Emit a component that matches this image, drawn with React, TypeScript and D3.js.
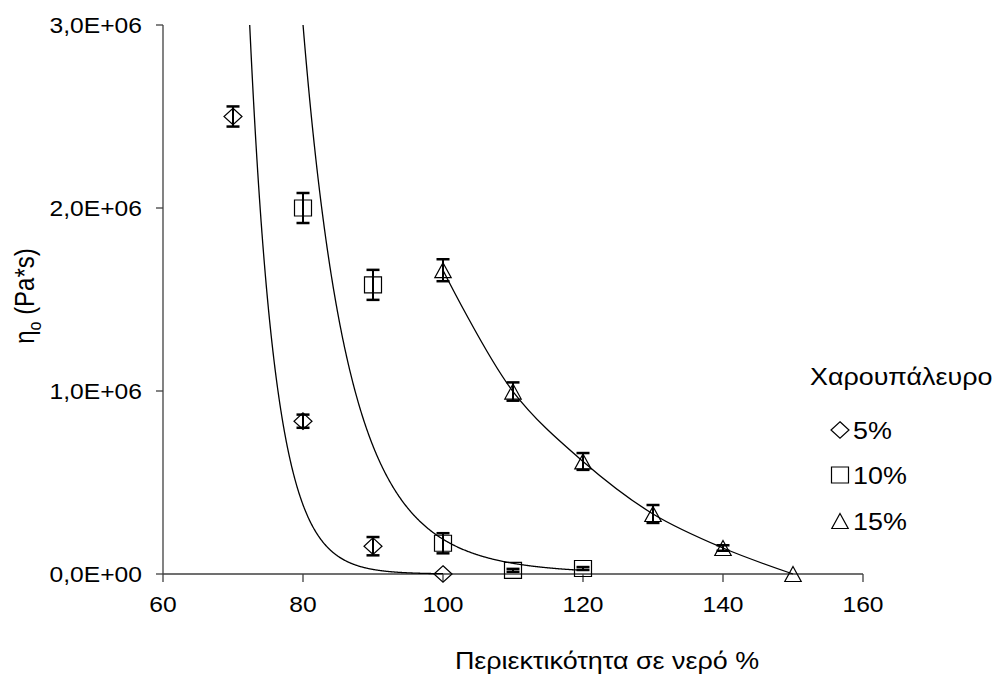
import React from "react";
import * as d3 from "d3";

// ---- data ----
const x5 = [70, 80, 90, 100];
const y5 = [2.5e6, 0.835e6, 0.152e6, 0];
const e5 = [0.055e6, 0.036e6, 0.05e6, 0];

const x10 = [80, 90, 100, 110, 120];
const y10 = [2.0e6, 1.58e6, 0.168e6, 0.02e6, 0.03e6];
const e10 = [0.082e6, 0.082e6, 0.055e6, 0.008e6, 0.008e6];

const x15 = [100, 110, 120, 130, 140, 150];
const y15 = [1.66e6, 0.997e6, 0.615e6, 0.328e6, 0.142e6, 0];
const e15 = [0.06e6, 0.05e6, 0.046e6, 0.049e6, 0.015e6, 0];

// trend lines
// 5%: exponential y = y0 * exp(-b (x - x0))
const trend5 = { y0: 0.552e6, x0: 78.61, b: 0.272, xmin: 70, xmax: 100 };
// 10%: power y = y0 * (x / x0)^(-n)
const trend10 = { y0: 0.19e6, x0: 100, n: 12.37, xmin: 80, xmax: 120 };

const xTicks = [60, 80, 100, 120, 140, 160];
const yTicks = [0, 1e6, 2e6, 3e6];
const yTickLabels = ["0,0E+00", "1,0E+06", "2,0E+06", "3,0E+06"];
const legendLabels = ["5%", "10%", "15%"];
const legendTitle = "Χαρουπάλευρο";
const xTitle = "Περιεκτικότητα σε νερό %";

const W = 992, H = 675;
const left = 163, right = 863, top = 25, bottom = 574;
const FONT = "'Liberation Sans', Arial, sans-serif";
const SX = 1.12; // horizontal stretch of the reference text

const xS = d3.scaleLinear().domain([60, 160]).range([left, right]);
const yS = d3.scaleLinear().domain([0, 3e6]).range([bottom, top]);

function markerPath(kind: string, cx: number, cy: number): string {
  if (kind === "diamond") {
    const rx = 9, ry = 8.3;
    return `M${cx},${cy - ry}L${cx + rx},${cy}L${cx},${cy + ry}L${cx - rx},${cy}Z`;
  }
  if (kind === "square") {
    const sx = 8.5, sy = 8;
    return `M${cx - sx},${cy - sy}H${cx + sx}V${cy + sy}H${cx - sx}Z`;
  }
  return `M${cx},${cy - 7.5}L${cx + 8.2},${cy + 7.5}L${cx - 8.2},${cy + 7.5}Z`;
}

function curvePath(fn: (x: number) => number, xmin: number, xmax: number) {
  const pts: [number, number][] = [];
  const n = 500;
  for (let i = 0; i <= n; i++) {
    const x = xmin + ((xmax - xmin) * i) / n;
    pts.push([x, Math.min(fn(x), 4e6)]);
  }
  return d3.line<[number, number]>().x((d) => xS(d[0])).y((d) => yS(d[1]))(pts) || "";
}

function ErrorBars({ xs, ys, es }: { xs: number[]; ys: number[]; es: number[] }) {
  return (
    <g stroke="#000" fill="none">
      {xs.map((x, i) => {
        if (!es[i]) return null;
        const cx = xS(x);
        const y1 = yS(ys[i] + es[i]);
        const y2 = yS(ys[i] - es[i]);
        return (
          <g key={i}>
            <line x1={cx} x2={cx} y1={y1} y2={y2} strokeWidth={2} />
            <line x1={cx - 6.5} x2={cx + 6.5} y1={y1} y2={y1} strokeWidth={2.5} />
            <line x1={cx - 6.5} x2={cx + 6.5} y1={y2} y2={y2} strokeWidth={2.5} />
          </g>
        );
      })}
    </g>
  );
}

function Markers({ xs, ys, kind }: { xs: number[]; ys: number[]; kind: string }) {
  return (
    <g stroke="#000" strokeWidth={1.2} fill="none">
      {xs.map((x, i) => (
        <path key={i} d={markerPath(kind, xS(x), yS(ys[i]))} />
      ))}
    </g>
  );
}

function T({ x, y, size, anchor, children }: { x: number; y: number; size: number; anchor?: string; children: React.ReactNode }) {
  return (
    <text transform={`translate(${x},${y}) scale(${SX},1)`} fontSize={size} textAnchor={anchor || "start"} fill="#000">
      {children}
    </text>
  );
}

export default function App() {
  const line15 =
    d3
      .line<number>()
      .x((_, i) => xS(x15[i]))
      .y((d) => yS(d))
      .curve(d3.curveCatmullRom.alpha(0.5))(y15) || "";

  const f5 = (x: number) => trend5.y0 * Math.exp(-trend5.b * (x - trend5.x0));
  const f10 = (x: number) => trend10.y0 * Math.pow(x / trend10.x0, -trend10.n);

  const legendKinds = ["diamond", "square", "triangle"];
  const legendY = [430, 475, 521];

  return (
    <svg width={W} height={H} style={{ position: "absolute", left: 0, top: 0, background: "#fff" }} fontFamily={FONT}>
      <defs>
        <clipPath id="plotClip">
          <rect x={left} y={top} width={right - left} height={bottom - top + 10} />
        </clipPath>
      </defs>

      {/* axes */}
      <g stroke="#404040" strokeWidth={1.3}>
        <line x1={left} x2={left} y1={top} y2={bottom} />
        <line x1={left} x2={right} y1={bottom} y2={bottom} />
        {yTicks.map((t, i) => (
          <line key={i} x1={left - 7} x2={left} y1={yS(t)} y2={yS(t)} />
        ))}
        {xTicks.map((t, i) => (
          <line key={i} x1={xS(t)} x2={xS(t)} y1={bottom} y2={bottom + 8} />
        ))}
      </g>

      {/* tick labels */}
      {yTicks.map((t, i) => (
        <T key={"y" + i} x={left - 21} y={yS(t) + 8} size={22} anchor="end">
          {yTickLabels[i]}
        </T>
      ))}
      {xTicks.map((t, i) => (
        <T key={"x" + i} x={xS(t)} y={bottom + 38} size={22} anchor="middle">
          {t}
        </T>
      ))}

      {/* titles */}
      <T x={607} y={669} size={24} anchor="middle">
        {xTitle}
      </T>
      <text transform={`translate(34,296) rotate(-90) scale(1,${SX})`} fontSize={24} textAnchor="middle" fill="#000">
        η<tspan fontSize={16} dy={6}>o</tspan>
        <tspan dy={-6}> (Pa*s)</tspan>
      </text>

      {/* trend lines and series line */}
      <g clipPath="url(#plotClip)" fill="none" stroke="#000" strokeWidth={1.3}>
        <path d={curvePath(f5, trend5.xmin, trend5.xmax)} />
        <path d={curvePath(f10, trend10.xmin, trend10.xmax)} />
        <path d={line15} />
      </g>

      <Markers xs={x5} ys={y5} kind="diamond" />
      <Markers xs={x10} ys={y10} kind="square" />
      <Markers xs={x15} ys={y15} kind="triangle" />
      <ErrorBars xs={x5} ys={y5} es={e5} />
      <ErrorBars xs={x10} ys={y10} es={e10} />
      <ErrorBars xs={x15} ys={y15} es={e15} />

      {/* legend */}
      <T x={810} y={385} size={24}>
        {legendTitle}
      </T>
      {legendLabels.map((l, i) => (
        <g key={i}>
          <path d={markerPath(legendKinds[i], 840, legendY[i])} fill="none" stroke="#000" strokeWidth={1.2} />
          <T x={853} y={legendY[i] + 9} size={24}>
            {l}
          </T>
        </g>
      ))}
    </svg>
  );
}
